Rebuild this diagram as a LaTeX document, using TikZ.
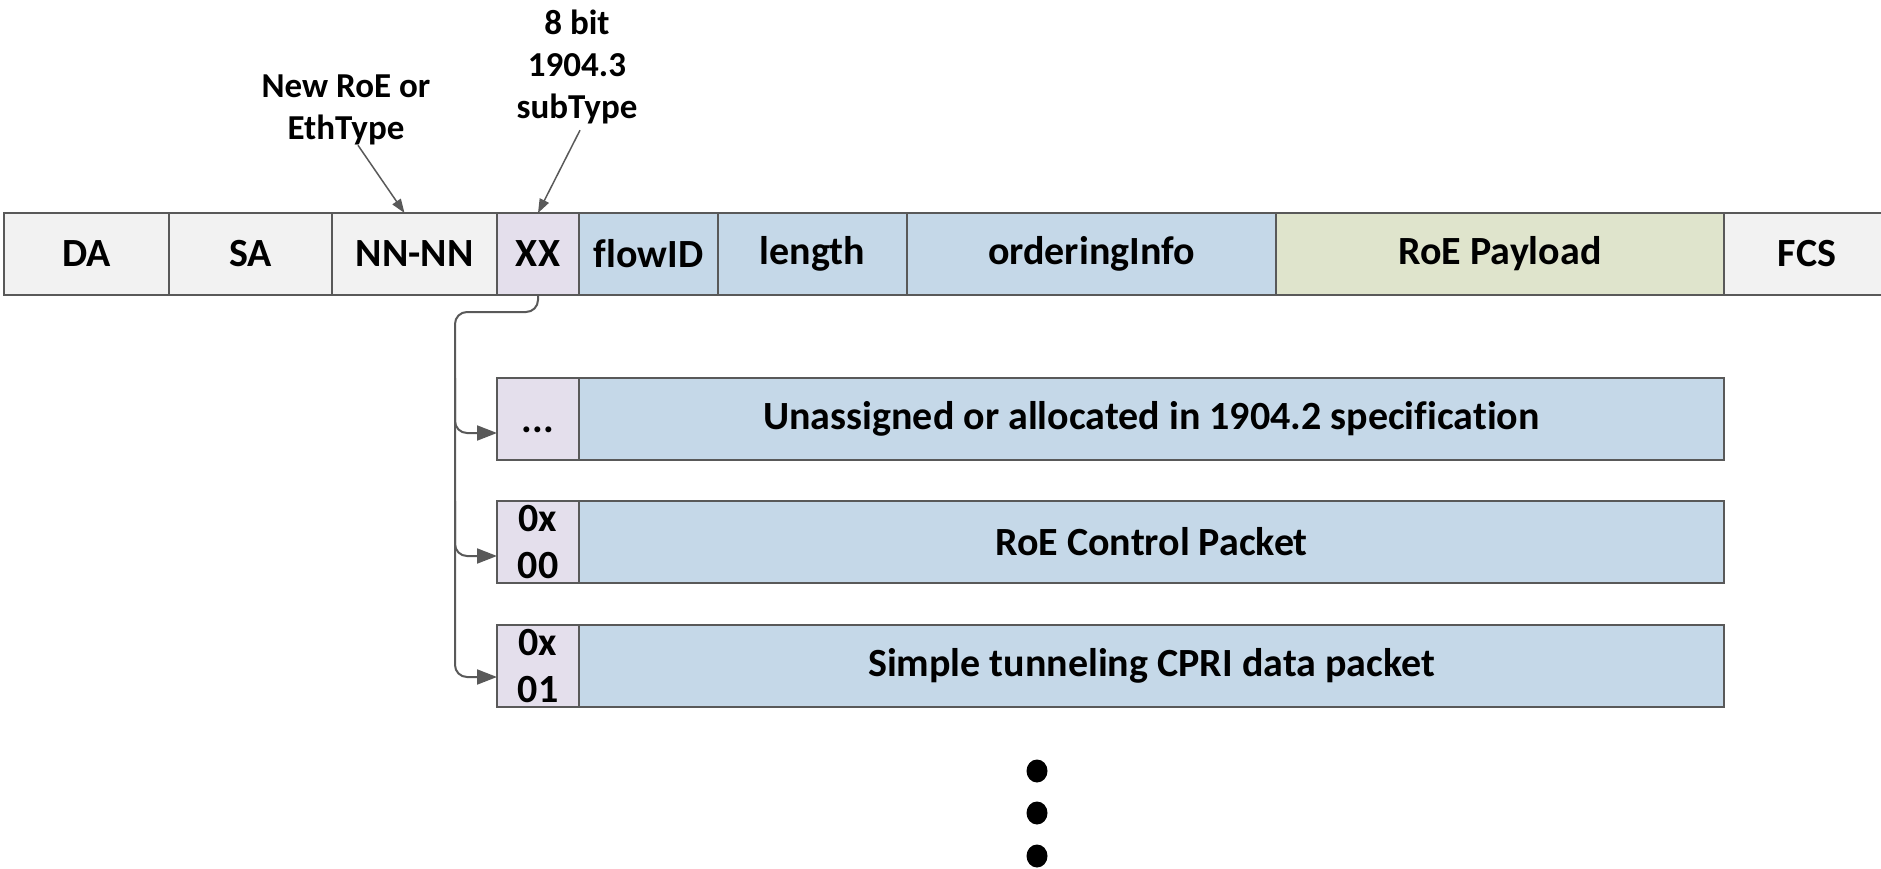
\documentclass[tikz,border=0pt]{standalone}
\usepackage{fontspec}
\setmainfont{Carlito}[Ligatures=NoCommon]
\usepackage{tikz}
\usetikzlibrary{calc,arrows.meta,positioning}
\definecolor{linec}{HTML}{595959}
\definecolor{greyc}{HTML}{F2F2F2}
\definecolor{lilac}{HTML}{E4DFEC}
\definecolor{bluec}{HTML}{C5D8E8}
\definecolor{olivec}{HTML}{DFE4CC}
\tikzset{
  fld/.style={draw=linec,line width=2pt,outer sep=0pt,inner sep=0pt,minimum height=82pt,minimum width=#1,font=\fontsize{40}{47}\selectfont\bfseries,align=center},
  ar/.style={-{Triangle[length=20pt,width=15pt]},line width=2pt,linec},
  arsm/.style={-{Triangle[length=14pt,width=10pt]},line width=1.5pt,linec},
  an/.style={font=\fontsize{35}{42}\selectfont\bfseries,align=center,inner sep=0pt}
}

\begin{document}
\begin{tikzpicture}[x=1pt,y=-1pt]
\clip (0,0) rectangle (1881,869);
% frame fields
\node[fld=165pt,fill=greyc,anchor=north west] (da) at (4,213) {DA};
\node[fld=163pt,fill=greyc,right=0pt of da] (sa) {SA};
\node[fld=165pt,fill=greyc,right=0pt of sa] (ethtype) {NN-NN};
\node[fld=82pt,fill=lilac,right=0pt of ethtype] (subtype) {XX};
\node[fld=139pt,fill=bluec,right=0pt of subtype] (flowid) {flowID};
\node[fld=189pt,fill=bluec,right=0pt of flowid] (len) {length};
\node[fld=369pt,fill=bluec,right=0pt of len] (ordinfo) {orderingInfo};
\node[fld=448pt,fill=olivec,right=0pt of ordinfo] (payload) {RoE Payload};
\node[fld=166pt,fill=greyc,right=0pt of payload] (fcs) {FCS};
% labels above
\node[an] (ann1) at (346,110) {New RoE or\\EthType};
\node[an] (ann2) at (577,67) {8 bit\\1904.3\\subType};
\draw[arsm] ($(ann1.south)+(12,0)$) -- ($(ethtype.north)+(-10,0)$);
\draw[arsm] ($(ann2.south)+(3,6)$) -- (subtype.north);
% subtype values
\node[fld=82pt,fill=lilac,anchor=north west,text height=27pt,text depth=0pt] (sub1) at (497,378) {...};
\node[fld=1145pt,fill=bluec,right=0pt of sub1] (row1) {Unassigned or allocated in 1904.2 specification};
\node[fld=82pt,fill=lilac,below=41pt of sub1] (sub2) {0x\\00};
\node[fld=1145pt,fill=bluec,right=0pt of sub2] (row2) {RoE Control Packet};
\node[fld=82pt,fill=lilac,below=42pt of sub2] (sub3) {0x\\01};
\node[fld=1145pt,fill=bluec,right=0pt of sub3] (row3) {Simple tunneling CPRI data packet};
% branch lines
\coordinate (bus) at (455,312);
\draw[ar,rounded corners=12pt] (subtype.south) |- (bus) |- ($(sub3.west)+(0,11)$);
\draw[ar,rounded corners=12pt] (bus |- sub1.north) |- ($(sub1.west)+(0,14)$);
\draw[ar,rounded corners=12pt] (bus |- sub2.north) |- ($(sub2.west)+(0,14)$);
% more entries
\foreach \yy in {771,813,856}
  \fill (1037,\yy) ellipse [x radius=10.5pt,y radius=11.5pt];
\end{tikzpicture}
\end{document}
